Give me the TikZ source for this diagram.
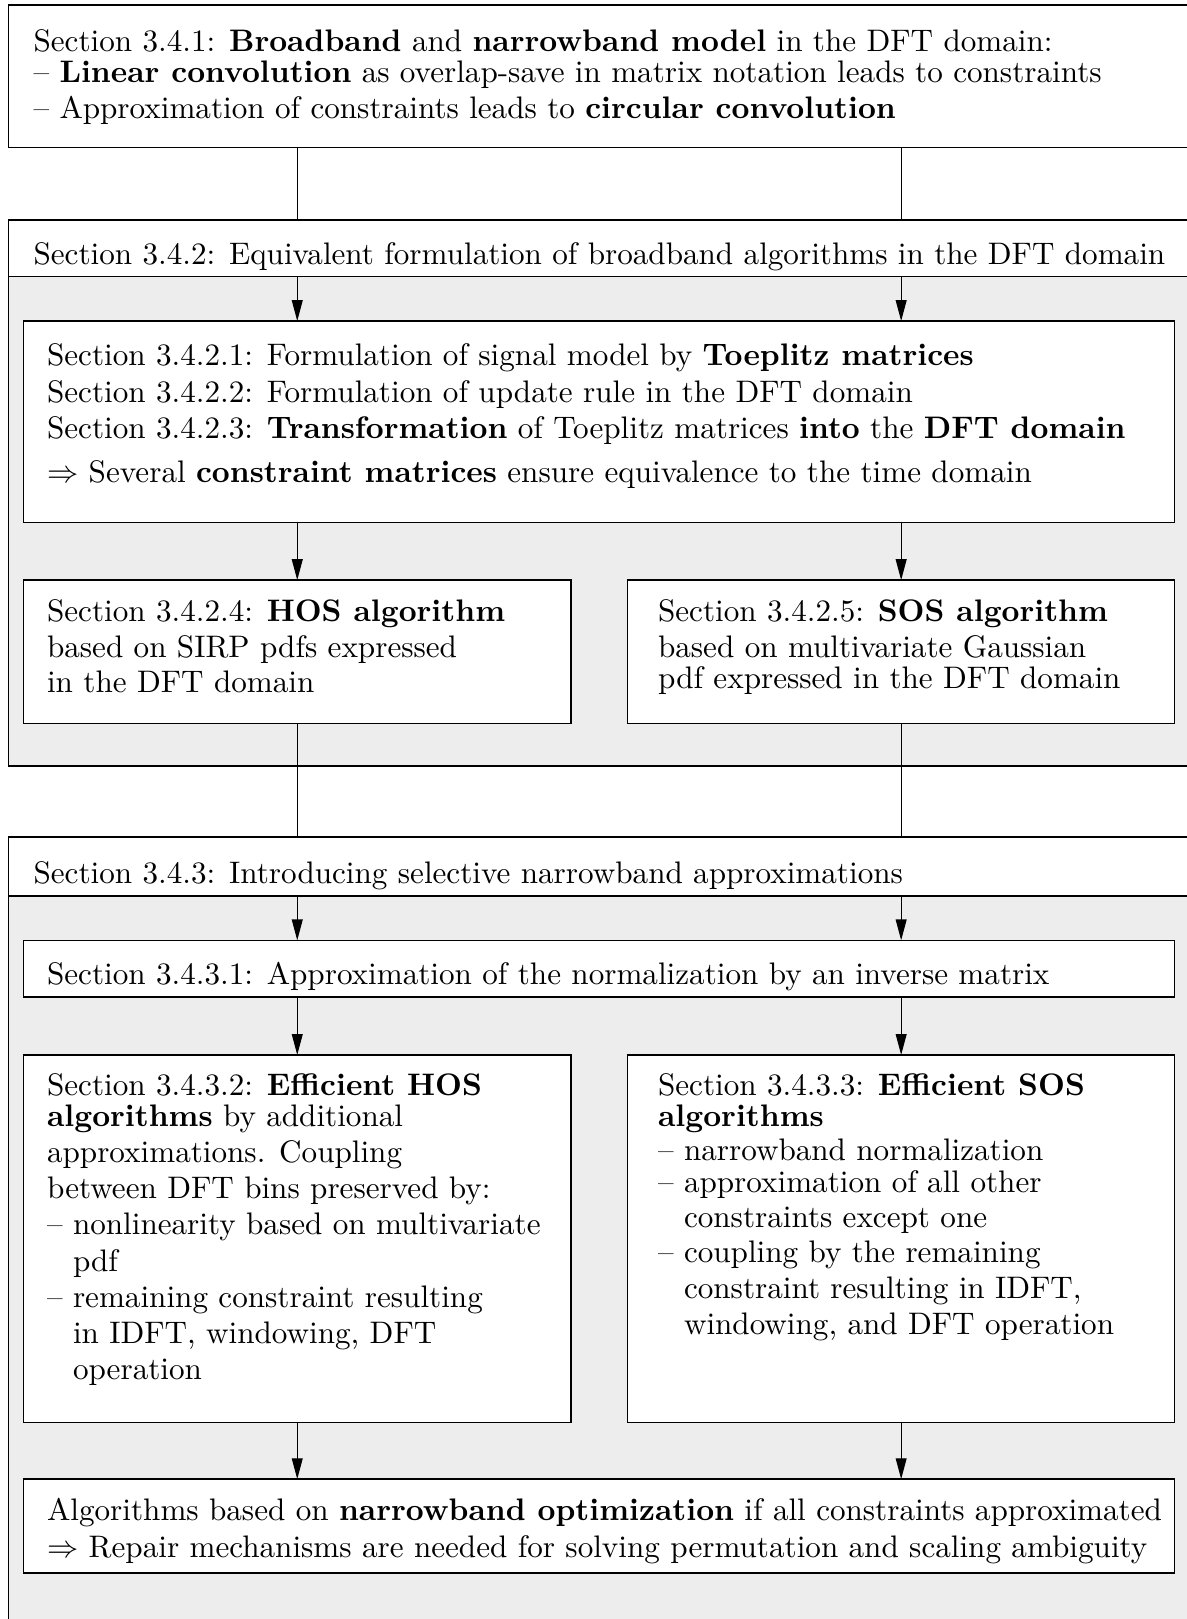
\documentclass[tikz,border=0pt]{standalone}
\usetikzlibrary{arrows.meta,fit}
\definecolor{panel}{HTML}{EDEDED}
\tikzset{
  box/.style={draw=black, line width=0.5pt, fill=white, inner sep=0pt, outer sep=0pt, rectangle},
  panelbox/.style={draw=black, line width=0.5pt, fill=panel, inner sep=0pt, outer sep=0pt, rectangle},
  ln/.style={anchor=base west, inner sep=0pt, yshift=-1.2pt, font=\fontsize{10.9}{13}\selectfont},
  conn/.style={line width=0.4pt},
  arr/.style={line width=0.4pt, -{Triangle[length=7.3pt,width=3.8pt]}},
}
\newcommand{\dind}{\hphantom{-- }}
\begin{document}
\begin{tikzpicture}[x=0.35pt,y=-0.35pt]
\useasboundingbox (0,0) rectangle (1186,1619);
\coordinate (xl) at (297.25,0);
\coordinate (xr) at (901.15,0);

% Box A
\node[box, fit={(8.3,5.2) (1195,147.6)}] (A) {};
\node[ln] (a1) at (33,48.5) {Section 3.4.1: \textbf{Broadband} and \textbf{narrowband model} in the DFT domain:};
\node[ln] (a2) at (33,79.4) {-- \textbf{Linear convolution} as overlap-save in matrix notation leads to constraints};
\node[ln] (a3) at (33,114.6) {-- Approximation of constraints leads to \textbf{circular convolution}};

% Panel B
\node[panelbox, fit={(8.3,219.9) (1195,765.9)}] (B) {};
\node[box, fit={(8.3,219.9) (1195,276.6)}] (Bh) {};
\node[ln] (b1) at (33,261) {Section 3.4.2: Equivalent formulation of broadband algorithms in the DFT domain};

% Box C
\node[box, fit={(23.7,321) (1174.7,522.3)}] (C) {};
\node[ln] (c1) at (46.5,362.3) {Section 3.4.2.1: Formulation of signal model by \textbf{Toeplitz matrices}};
\node[ln] (c2) at (46.5,399.5) {Section 3.4.2.2: Formulation of update rule in the DFT domain};
\node[ln] (c3) at (46.5,434.6) {Section 3.4.2.3: \textbf{Transformation} of Toeplitz matrices \textbf{into} the \textbf{DFT domain}};
\node[ln] (c4) at (46.5,479) {$\Rightarrow$ Several \textbf{constraint matrices} ensure equivalence to the time domain};

% Boxes D, E
\node[box, fit={(23.7,580.1) (570.8,723.6)}] (D) {};
\node[ln] (d1) at (46.5,618.3) {Section 3.4.2.4: \textbf{HOS algorithm}};
\node[ln] (d2) at (46.5,654.4) {based on SIRP pdfs expressed};
\node[ln] (d3) at (46.5,689.5) {in the DFT domain};

\node[box, fit={(627.6,580.1) (1174.7,723.6)}] (E) {};
\node[ln] (e1) at (657.5,618.3) {Section 3.4.2.5: \textbf{SOS algorithm}};
\node[ln] (e2) at (657.5,654.4) {based on multivariate Gaussian};
\node[ln] (e3) at (657.5,685.4) {pdf expressed in the DFT domain};

% Panel F
\node[panelbox, fit={(8.3,837.1) (1195,1650)}] (F) {};
\node[box, fit={(8.3,837.1) (1195,896)}] (Fh) {};
\node[ln] (f1) at (33,880.5) {Section 3.4.3: Introducing selective narrowband approximations};

% Box G
\node[box, fit={(23.7,940.3) (1174.7,997.1)}] (G) {};
\node[ln] (g1) at (46.5,980.6) {Section 3.4.3.1: Approximation of the normalization by an inverse matrix};

% Boxes H, I
\node[box, fit={(23.7,1054.9) (570.8,1422.4)}] (H) {};
\node[ln] (h1) at (46.5,1092.1) {Section 3.4.3.2: \textbf{Efficient HOS}};
\node[ln] (h2) at (46.5,1123.1) {\textbf{algorithms} by additional};
\node[ln] (h3) at (46.5,1159.2) {approximations. Coupling};
\node[ln] (h4) at (46.5,1195.4) {between DFT bins preserved by:};
\node[ln] (h5) at (46.5,1231.5) {-- nonlinearity based on multivariate};
\node[ln] (h6) at (46.5,1267.6) {\dind pdf};
\node[ln] (h7) at (46.5,1303.7) {-- remaining constraint resulting};
\node[ln] (h8) at (46.5,1339.9) {\dind in IDFT, windowing, DFT};
\node[ln] (h9) at (46.5,1376.0) {\dind operation};

\node[box, fit={(627.6,1054.9) (1174.7,1422.4)}] (I) {};
\node[ln] (i1) at (657.5,1092.1) {Section 3.4.3.3: \textbf{Efficient SOS}};
\node[ln] (i2) at (657.5,1123.1) {\textbf{algorithms}};
\node[ln] (i3) at (657.5,1157.1) {-- narrowband normalization};
\node[ln] (i4) at (657.5,1189.1) {-- approximation of all other};
\node[ln] (i5) at (657.5,1224.2) {\dind constraints except one};
\node[ln] (i6) at (657.5,1259.3) {-- coupling by the remaining};
\node[ln] (i7) at (657.5,1295.4) {\dind constraint resulting in IDFT,};
\node[ln] (i8) at (657.5,1331.5) {\dind windowing, and DFT operation};

% Box J
\node[box, fit={(23.7,1479.1) (1174.7,1573.1)}] (J) {};
\node[ln] (j1) at (46.5,1517.3) {Algorithms based on \textbf{narrowband optimization} if all constraints approximated};
\node[ln] (j2) at (46.5,1554.4) {$\Rightarrow$ Repair mechanisms are needed for solving permutation and scaling ambiguity};

% Connectors
\draw[conn] (A.south -| xl) -- (Bh.north -| xl);
\draw[conn] (A.south -| xr) -- (Bh.north -| xr);
\draw[arr] (Bh.south -| xl) -- (C.north -| xl);
\draw[arr] (Bh.south -| xr) -- (C.north -| xr);
\draw[arr] (C.south -| D.north) -- (D.north);
\draw[arr] (C.south -| E.north) -- (E.north);
\draw[conn] (D.south) -- (Fh.north -| D.south);
\draw[conn] (E.south) -- (Fh.north -| E.south);
\draw[arr] (Fh.south -| xl) -- (G.north -| xl);
\draw[arr] (Fh.south -| xr) -- (G.north -| xr);
\draw[arr] (G.south -| H.north) -- (H.north);
\draw[arr] (G.south -| I.north) -- (I.north);
\draw[arr] (H.south) -- (J.north -| H.south);
\draw[arr] (I.south) -- (J.north -| I.south);
\end{tikzpicture}
\end{document}
